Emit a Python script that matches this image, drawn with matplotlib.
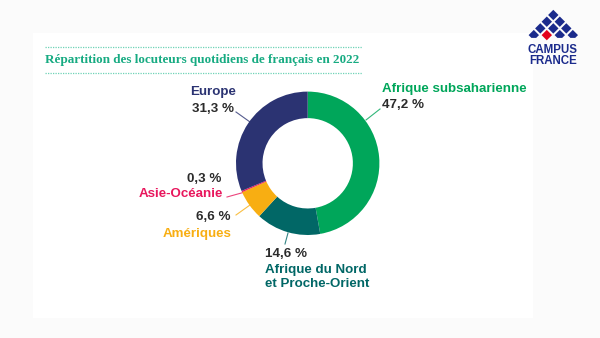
import matplotlib
matplotlib.use('Agg')
import matplotlib.pyplot as plt
from matplotlib.patches import Rectangle, Polygon

# ------ Data
regions = ['Afrique subsaharienne', 'Afrique du Nord\net Proche-Orient',
           'Amériques', 'Asie-Océanie', 'Europe']
shares = [47.2, 14.6, 6.6, 0.3, 31.3]
pct_labels = ['47,2 %', '14,6 %', '6,6 %', '0,3 %', '31,3 %']
colors = ['#00a65a', '#016766', '#f8ae12', '#e8175d', '#2b3372']
title = 'Répartition des locuteurs quotidiens de français en 2022'

W, H = 600, 338
DARK_TXT = '#2b2b2b'

fig = plt.figure(figsize=(6, 3.38), dpi=100, facecolor='#fbfbfb')

# background axes in pixel coordinates
bg = fig.add_axes([0, 0, 1, 1])
bg.set_xlim(0, W)
bg.set_ylim(H, 0)
bg.axis('off')
bg.add_patch(Rectangle((33, 33), 500, 285, facecolor='white', edgecolor='none'))

# title with dotted rules
bg.plot([45, 362], [47, 47], color='#6fd3b6', lw=0.9, ls=(0, (1, 1)))
bg.plot([45, 362], [73, 73], color='#6fd3b6', lw=0.9, ls=(0, (1, 1)))
bg.text(45, 60, title, family='Liberation Serif', fontweight='bold', fontsize=9.45,
        color='#17ab82', va='center', ha='left')

# ------ donut
cx, cy, r = 307.7, 163.3, 71.7
pie_ax = fig.add_axes([(cx - r) / W, 1 - (cy + r) / H, 2 * r / W, 2 * r / H])
pie_ax.pie(shares, colors=colors, startangle=90, counterclock=False,
           radius=1, wedgeprops=dict(width=0.37, linewidth=0))
pie_ax.set_xlim(-1, 1)
pie_ax.set_ylim(-1, 1)
pie_ax.set_aspect('equal')
pie_ax.axis('off')

# ------ labels : x, y of name, y of percentage, alignment, leader line
FONT = 'Liberation Sans'
FS = 9.6
lab = {
    0: dict(x=382, yn=89, yp=105, ha='left', lead=[(366, 120), (380, 109)]),
    1: dict(x=265, yn=277, yp=254, ha='left', lead=[(285, 244), (288, 233)]),
    2: dict(x=232, yn=234, yp=217, ha='right', lead=[(236, 215), (250, 205)]),
    3: dict(x=223, yn=194, yp=179, ha='right', lead=[(227, 197), (245, 192)]),
    4: dict(x=236, yn=92, yp=109, ha='right', lead=[(236, 112), (250, 122)]),
}
for i, d in lab.items():
    bg.text(d['x'], d['yn'], regions[i], family=FONT, fontsize=FS, fontweight='bold',
            color=colors[i], ha=d['ha'], va='center', linespacing=1.25)
    bg.text(d['x'] - (2 if d['ha'] == 'right' else 0), d['yp'], pct_labels[i], family=FONT,
            fontsize=FS, fontweight='bold', color=DARK_TXT, ha=d['ha'], va='center')
    (x0, y0), (x1, y1) = d['lead']
    bg.plot([x0, x1], [y0, y1], color=colors[i], lw=0.8, alpha=0.8)

# ------ logo
NAVY = '#1b2b8c'
a = 5.2
for row in range(4):
    for k in range(row + 1):
        x = 553.3 + 13 * (k - row / 2)
        y = 15 + 6.7 * row
        if row == 3 and k == 1:
            pts = [(x, y - a), (x + a, y), (x, y + a), (x - a, y)]
            col = '#e3001b'
        elif row == 3:
            b = 2.8
            pts = [(x, y - a), (x + a, y), (x + a - b, y + b), (x - a + b, y + b), (x - a, y)]
            col = NAVY
        else:
            pts = [(x, y - a), (x + a, y), (x, y + a), (x - a, y)]
            col = NAVY
        bg.add_patch(Polygon(pts, closed=True, facecolor=col, edgecolor='none'))
bg.text(553, 50, 'CAMPUS', family='Liberation Sans', fontweight='bold', fontsize=8.3,
        color=NAVY, ha='center', va='center')
bg.text(553, 61, 'FRANCE', family='Liberation Sans', fontweight='bold', fontsize=8.3,
        color=NAVY, ha='center', va='center')

fig.savefig('out.png', dpi=100, facecolor=fig.get_facecolor())
